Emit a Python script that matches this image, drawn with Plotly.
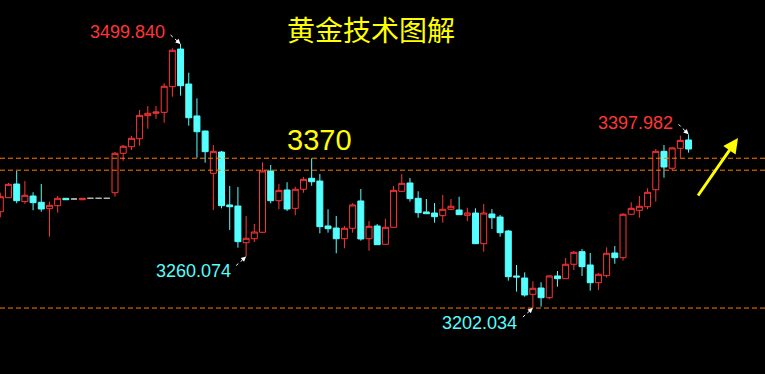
import plotly.graph_objects as go

# ---- data (price values) ----
opens = [3310.7, 3326.5, 3341.9, 3322.0, 3328.4, 3321.3, 3314.1, 3317.5, 3325.8, 3325.0,
         3324.2, 3325.8, 3325.8, 3325.8, 3332.1, 3376.6, 3384.0, 3393.0, 3419.0, 3421.7,
         3422.8, 3451.7, 3494.2, 3454.7, 3418.7, 3401.7, 3354.0, 3378.0, 3318.3, 3317.1,
         3275.7, 3280.2, 3287.5, 3356.6, 3323.1, 3335.2, 3314.5, 3336.0, 3348.4, 3345.3,
         3294.6, 3292.3, 3280.2, 3292.0, 3322.8, 3280.2, 3294.6, 3273.9, 3293.1, 3333.7,
         3343.1, 3325.8, 3310.4, 3309.2, 3306.2, 3313.4, 3312.6, 3306.6, 3309.2, 3274.6,
         3308.1, 3304.7, 3288.9, 3238.2, 3235.9, 3217.5, 3224.6, 3213.7, 3238.2, 3235.1,
         3251.4, 3265.6, 3250.6, 3230.6, 3238.5, 3264.1, 3258.8, 3307.8, 3312.3, 3316.3,
         3335.5, 3378.8, 3359.7, 3382.2, 3391.6]
highs = [3332.1, 3343.1, 3356.6, 3345.3, 3332.6, 3341.9, 3322.0, 3328.4, 3325.8, 3326.2,
         3325.8, 3325.8, 3325.8, 3325.8, 3378.0, 3385.9, 3396.1, 3425.4, 3429.9, 3429.9,
         3455.5, 3495.0, 3499.84, 3467.5, 3438.6, 3402.2, 3385.9, 3379.2, 3339.7, 3338.6,
         3305.9, 3296.8, 3366.4, 3363.4, 3341.9, 3343.9, 3338.9, 3349.8, 3370.9, 3353.2,
         3313.4, 3305.9, 3294.6, 3320.2, 3336.3, 3300.2, 3296.8, 3302.5, 3339.7, 3353.2,
         3348.7, 3333.7, 3325.0, 3320.5, 3329.5, 3325.0, 3327.6, 3315.2, 3314.5, 3319.4,
         3313.7, 3307.0, 3290.1, 3250.6, 3242.3, 3232.2, 3231.1, 3239.0, 3243.8, 3258.5,
         3266.4, 3268.6, 3264.1, 3241.6, 3270.5, 3272.0, 3308.9, 3321.3, 3328.4, 3337.1,
         3381.4, 3385.9, 3383.7, 3396.5, 3397.982]
lows = [3304.4, 3326.3, 3320.2, 3319.7, 3312.3, 3310.7, 3282.5, 3309.6, 3324.2, 3325.0,
        3324.2, 3325.8, 3325.8, 3325.8, 3327.6, 3368.2, 3380.3, 3385.1, 3404.3, 3415.3,
        3411.1, 3440.4, 3441.6, 3407.7, 3371.6, 3366.0, 3312.6, 3314.5, 3290.1, 3270.1,
        3260.074, 3276.5, 3287.0, 3320.2, 3313.4, 3311.5, 3306.6, 3332.1, 3340.0, 3286.3,
        3287.0, 3263.8, 3269.4, 3287.0, 3278.0, 3266.7, 3273.3, 3273.7, 3293.0, 3333.5,
        3322.0, 3303.9, 3308.2, 3298.3, 3298.3, 3313.2, 3307.1, 3300.2, 3274.4, 3265.6,
        3291.2, 3282.5, 3232.9, 3220.5, 3214.8, 3202.034, 3203.5, 3211.9, 3226.1, 3234.9,
        3244.9, 3238.2, 3221.6, 3222.4, 3236.3, 3252.0, 3255.4, 3307.6, 3303.9, 3313.4,
        3322.0, 3349.1, 3357.4, 3371.6, 3377.3]
closes = [3327.6, 3341.6, 3323.1, 3329.2, 3320.9, 3313.7, 3317.9, 3325.8, 3324.2, 3325.0,
          3325.8, 3325.8, 3325.8, 3325.8, 3376.6, 3384.5, 3393.5, 3419.4, 3421.7, 3423.2,
          3452.2, 3492.8, 3452.8, 3416.7, 3400.9, 3378.4, 3378.8, 3317.5, 3316.3, 3276.9,
          3280.7, 3287.8, 3356.6, 3323.1, 3334.8, 3313.7, 3336.0, 3347.2, 3344.5, 3293.8,
          3291.5, 3280.2, 3292.0, 3318.3, 3279.9, 3294.2, 3273.5, 3293.1, 3334.8, 3342.7,
          3325.4, 3309.6, 3308.4, 3305.1, 3313.4, 3316.8, 3307.3, 3309.2, 3274.6, 3309.2,
          3303.9, 3287.0, 3237.4, 3237.0, 3216.7, 3224.3, 3213.7, 3238.2, 3235.1, 3251.4,
          3264.9, 3248.7, 3230.6, 3240.1, 3263.8, 3258.8, 3307.8, 3314.5, 3316.8, 3332.6,
          3378.8, 3361.1, 3382.6, 3391.2, 3381.4]
level_lines = [3371.0, 3357.5, 3202.0]
level_label = "3370"
title_text = "黄金技术图解"
marks = [  # (index, price, label, colour kind)
    (22, 3499.84, "3499.840", "up"),
    (30, 3260.074, "3260.074", "down"),
    (65, 3202.034, "3202.034", "down"),
    (84, 3397.982, "3397.982", "up"),
]

RED = "#ff3636"
CYAN = "#54ffff"
GRAY = "#b4b4b4"
ORANGE = "#ff7c00"
YELLOW = "#ffff00"

idx = list(range(len(opens)))
up = [i for i in idx if closes[i] > opens[i]]
dn = [i for i in idx if closes[i] < opens[i]]
dj = [i for i in idx if closes[i] == opens[i]]


def sub(ids):
    return dict(x=ids, open=[opens[i] for i in ids], high=[highs[i] for i in ids],
                low=[lows[i] for i in ids], close=[closes[i] for i in ids])


fig = go.Figure()
fig.add_trace(go.Candlestick(**sub(up), name="up", showlegend=False,
                             increasing=dict(line=dict(color=RED, width=1), fillcolor="black"),
                             decreasing=dict(line=dict(color=RED, width=1), fillcolor="black")))
fig.add_trace(go.Candlestick(**sub(dn), name="down", showlegend=False,
                             increasing=dict(line=dict(color=CYAN, width=1), fillcolor=CYAN),
                             decreasing=dict(line=dict(color=CYAN, width=1), fillcolor=CYAN)))
fig.add_trace(go.Candlestick(**sub(dj), name="doji", showlegend=False,
                             increasing=dict(line=dict(color=GRAY, width=1), fillcolor=GRAY),
                             decreasing=dict(line=dict(color=GRAY, width=1), fillcolor=GRAY)))

for lv in level_lines:
    fig.add_shape(type="line", xref="paper", x0=0, x1=1, yref="y", y0=lv, y1=lv,
                  line=dict(color=ORANGE, width=1, dash="5px,3px"))

annotations = []
# title
annotations.append(dict(xref="paper", yref="paper", x=371 / 765, y=1 - 29 / 374,
                        text=title_text, showarrow=False,
                        font=dict(family="Noto Sans CJK SC", size=28, color=YELLOW),
                        xanchor="center", yanchor="middle"))
# level label
annotations.append(dict(xref="paper", yref="y", x=319 / 765, y=level_lines[0],
                        text=level_label, showarrow=False, yshift=0,
                        font=dict(family="Liberation Sans", size=29, color=YELLOW),
                        xanchor="center", yanchor="bottom"))

# price marks: label offset from the marked extreme (dx, dy) and arrow tail offset (adx, ady),
# in screen pixels (dy positive = downwards)
label_offsets = {
    0: (-53, -12, -10, -9),
    1: (-53, 14, -10, 9),
    2: (-53, 15, -10, 9),
    3: (-53, -11, -10, -10),
}
for k, (i, p, lab, kind) in enumerate(marks):
    col = RED if kind == "up" else CYAN
    dx, dy, adx, ady = label_offsets[k]
    annotations.append(dict(x=i, y=p, xref="x", yref="y", text=lab, showarrow=False,
                            xshift=dx, yshift=-dy,
                            xanchor="center", yanchor="middle",
                            font=dict(family="Liberation Sans", size=18, color=col)))
    fig.add_shape(type="line", xref="x", yref="y", xsizemode="pixel", ysizemode="pixel",
                  xanchor=i, yanchor=p, x0=adx, x1=-1 if adx < 0 else 1,
                  y0=-ady, y1=(-1 if ady > 0 else 1),
                  line=dict(color="white", width=1, dash="dot"))
    annotations.append(dict(x=i, y=p, xref="x", yref="y", text="", showarrow=True,
                            ax=adx * 0.3, ay=ady * 0.3, arrowhead=2, arrowsize=1,
                            arrowwidth=1, arrowcolor="white", standoff=0))

# yellow trend arrow
annotations.append(dict(xref="paper", yref="paper", x=738 / 765, y=1 - 138 / 374,
                        ax=-41, ay=59, text="", showarrow=True, arrowhead=2,
                        arrowsize=1, arrowwidth=3, arrowcolor=YELLOW, standoff=0))

fig.update_layout(
    width=765, height=374,
    margin=dict(l=0, r=0, t=0, b=0),
    paper_bgcolor="black", plot_bgcolor="black",
    showlegend=False,
    boxgap=0.1, boxgroupgap=0.19,
    annotations=annotations,
    xaxis=dict(visible=False, range=[-0.037, 93.33], rangeslider=dict(visible=False),
               fixedrange=True),
    yaxis=dict(visible=False, range=[3127.6, 3549.5], fixedrange=True),
)

fig.write_html(
    "out.html",
    config={"displayModeBar": False},
    post_script="document.body.style.margin='0';document.body.style.background='black';",
)
